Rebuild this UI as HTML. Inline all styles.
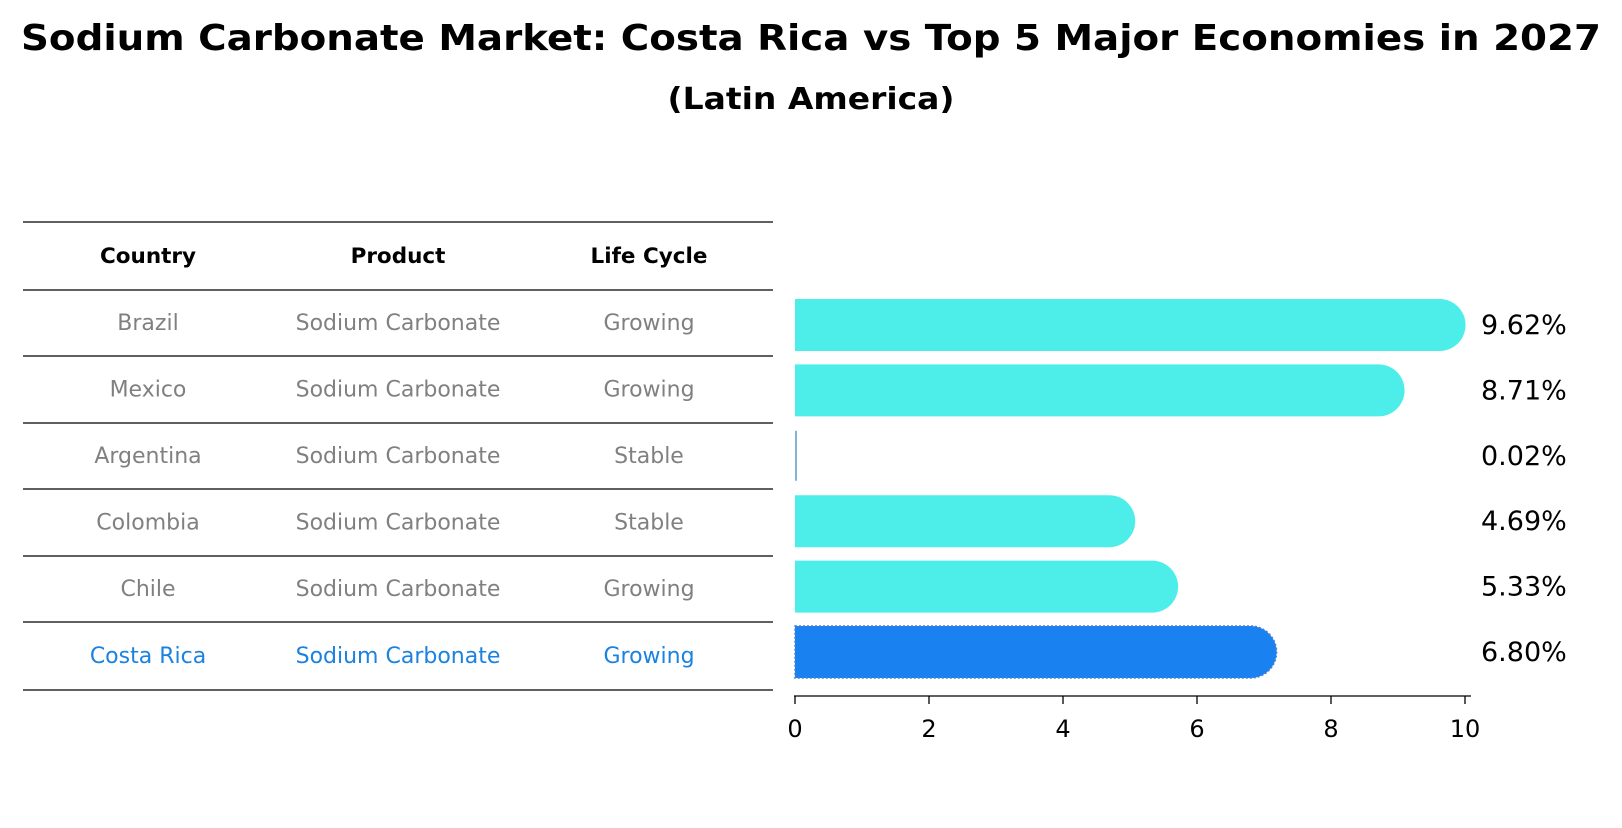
<!DOCTYPE html>
<html><head><meta charset="utf-8"><style>
body{margin:0;background:#fff;font-family:"Liberation Sans","DejaVu Sans",sans-serif;}
svg text{font-family:"DejaVu Sans","Liberation Sans",sans-serif;}
</style></head><body>
<svg id="c" width="1622" height="823" xmlns="http://www.w3.org/2000/svg">
<text x="811" y="50" text-anchor="middle" font-size="36" font-weight="bold" textLength="1580" lengthAdjust="spacingAndGlyphs">Sodium Carbonate Market: Costa Rica vs Top 5 Major Economies in 2027</text>
<text x="811" y="109" text-anchor="middle" font-size="30" font-weight="bold" textLength="287" lengthAdjust="spacingAndGlyphs">(Latin America)</text>
<g id="tbl"></g>
<g id="bars"></g>
</svg>
<script>
const countries=["Brazil","Mexico","Argentina","Colombia","Chile","Costa Rica"];
const products=["Sodium Carbonate","Sodium Carbonate","Sodium Carbonate","Sodium Carbonate","Sodium Carbonate","Sodium Carbonate"];
const cycles=["Growing","Growing","Stable","Stable","Growing","Growing"];
const values=[9.62,8.71,0.02,4.69,5.33,6.80];
const ticks=[0,2,4,6,8,10];
const NS="http://www.w3.org/2000/svg";
function mk(t,a,p,txt){const e=document.createElementNS(NS,t);for(const k in a)e.setAttribute(k,a[k]);if(txt!==undefined)e.textContent=txt;p.appendChild(e);return e;}
const tbl=document.getElementById('tbl'),bars=document.getElementById('bars');
const lineYs=[222,290,356,423,489,556,622,690];
lineYs.forEach(y=>{const l=mk('line',{x1:23,x2:773,y1:y,y2:y,stroke:'#000','stroke-width':1.2},tbl);

});
const cx=[148,398,649];
["Country","Product","Life Cycle"].forEach((h,i)=>{const t=mk('text',{x:cx[i],y:263,'text-anchor':'middle','font-size':21.5,'font-weight':'bold'},tbl,h);

});
const xs=v=>795+v*67;
const rowC=i=>325+i*65.4;
countries.forEach((c,i)=>{
  const cy=(lineYs[i+1]+lineYs[i+2])/2;
  const col=i===countries.length-1?'#1a82e0':'#808080';
  [c,products[i],cycles[i]].forEach((s,j)=>{const t=mk('text',{x:cx[j],y:cy+7,'text-anchor':'middle','font-size':22,fill:col},tbl,s);
  
  });
  const yc=rowC(i),h=52,r=26,x0=xs(0),x1=xs(values[i]);
  let b;
  if(values[i]<0.1){
    b=mk('line',{x1:x0+1,x2:x0+1,y1:yc-25,y2:yc+25,stroke:'#7fb8d0','stroke-width':2},bars);
  } else if(i===countries.length-1){
    b=mk('path',{d:`M${x0},${yc-h/2}H${x1}A${r},${r} 0 0 1 ${x1},${yc+h/2}H${x0}Z`,fill:'#1a82f0',stroke:'#4a7fcf','stroke-width':1.5,'stroke-dasharray':'2,2'},bars);
  } else {
    b=mk('path',{d:`M${x0},${yc-h/2}H${x1}A${r},${r} 0 0 1 ${x1},${yc+h/2}H${x0}Z`,fill:'#4deeea'},bars);
  }
  
  
  const vl=mk('text',{x:1481,y:yc+9,'font-size':27},bars,values[i].toFixed(2)+'%');
  
  
});
const ax=mk('line',{x1:794,x2:1471,y1:696,y2:696,stroke:'#000','stroke-width':1.3},bars);


ticks.forEach(t=>{const tl=mk('line',{x1:xs(t),x2:xs(t),y1:696,y2:704,stroke:'#000','stroke-width':1.3},bars);


const tx=mk('text',{x:xs(t),y:737,'text-anchor':'middle','font-size':24},bars,String(t));

});
</script>
</body></html>
